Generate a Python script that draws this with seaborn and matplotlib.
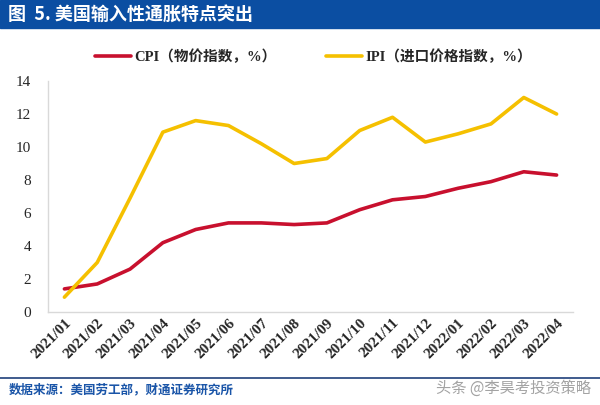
import matplotlib
matplotlib.use("Agg")
import matplotlib.pyplot as plt
import seaborn as sns
import pandas as pd

months = ["2021/01", "2021/02", "2021/03", "2021/04", "2021/05", "2021/06", "2021/07", "2021/08",
          "2021/09", "2021/10", "2021/11", "2021/12", "2022/01", "2022/02", "2022/03", "2022/04"]
cpi = [1.4, 1.7, 2.6, 4.2, 5.0, 5.4, 5.4, 5.3, 5.4, 6.2, 6.8, 7.0, 7.5, 7.9, 8.5, 8.3]
ipi = [0.9, 3.0, 6.9, 10.9, 11.6, 11.3, 10.2, 9.0, 9.3, 11.0, 11.8, 10.3, 10.8, 11.4, 13.0, 12.0]
cpi_label = "CPI（物价指数，%）"
ipi_label = "IPI（进口价格指数，%）"
title = "图  5. 美国输入性通胀特点突出"
source = "数据来源：美国劳工部，财通证券研究所"
watermark = "头条 @李昊考投资策略"
yticks = [0, 2, 4, 6, 8, 10, 12, 14]

sns.set_theme(style="white")
plt.rcParams['font.family'] = ['Liberation Serif', 'Noto Sans CJK SC', 'DejaVu Sans']

df = pd.DataFrame({
    "month": months * 2,
    "idx": list(range(len(months))) * 2,
    "value": cpi + ipi,
    "series": [cpi_label] * len(months) + [ipi_label] * len(months),
})

fig = plt.figure(figsize=(6, 4.05), dpi=100)
ax = fig.add_axes([0.08, 0.2296, 0.875, 0.5704])

sns.lineplot(data=df, x="idx", y="value", hue="series",
             palette={cpi_label: "#c8102e", ipi_label: "#f5c000"},
             linewidth=2.6, ax=ax, legend=True)

ax.set_xlim(-0.5, len(months) - 0.5)
ax.set_ylim(0, 14)
ax.set_yticks(yticks)
ax.set_yticklabels([str(v) for v in yticks], fontsize=11)
ax.set_xticks(range(len(months)))
ax.set_xticklabels(months, rotation=45, ha="right", rotation_mode="anchor",
                   fontsize=11, fontweight="bold")
ax.set_xlabel("")
ax.set_ylabel("")
for s in ["top", "right"]:
    ax.spines[s].set_visible(False)
for s in ["left", "bottom"]:
    ax.spines[s].set_color("#d9d9d9")
    ax.spines[s].set_linewidth(1.0)
ax.tick_params(axis="x", length=0, pad=3)
ax.tick_params(axis="y", length=0, pad=12)

leg = ax.legend(loc="center", bbox_to_anchor=(0.505, 1 + 24 / 231), ncol=2, frameon=False,
                handlelength=2.5, columnspacing=3.4, handletextpad=0.2,
                prop={'weight': 'bold', 'size': 10.5})
for line in leg.get_lines():
    line.set_linewidth(2.6)

# title bar
fig.patches.append(matplotlib.patches.Rectangle((0, 1 - 28 / 405), 1, 28 / 405,
                                                transform=fig.transFigure, color="#0b4ea2",
                                                zorder=0))
fig.text(0.014, 1 - 14 / 405, title, color="white", fontsize=13, fontweight="bold",
         va="center", ha="left", family=['Noto Sans CJK SC', 'DejaVu Sans'])

# bottom separator
fig.add_artist(matplotlib.lines.Line2D([0, 1], [1 - 378 / 405, 1 - 378 / 405],
                                       transform=fig.transFigure, color="#1f3f7a", lw=1.2))
fig.text(0.014, 1 - 390 / 405, source, color="#1a55a8", fontsize=9, fontweight="bold",
         va="center", ha="left", family=['Noto Sans CJK SC', 'DejaVu Sans'])
fig.text(0.985, 1 - 388 / 405, watermark, color="#8c8c8c", fontsize=11, alpha=0.8,
         va="center", ha="right", family=['Noto Sans CJK SC', 'DejaVu Sans'])

fig.savefig("out.png", dpi=100)
